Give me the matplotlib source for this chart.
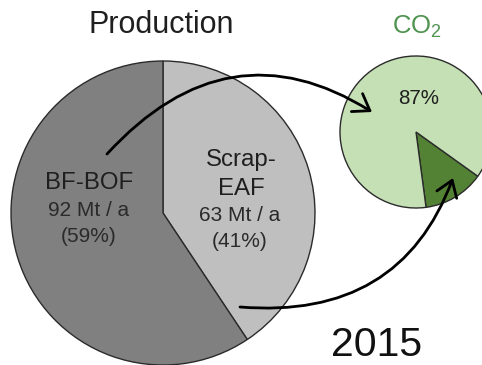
import matplotlib
matplotlib.use("Agg")
import matplotlib.pyplot as plt
from matplotlib.patches import FancyArrowPatch
from matplotlib.path import Path

plt.rcParams["font.family"] = ["Liberation Sans", "DejaVu Sans"]
plt.rcParams["mathtext.fontset"] = "custom"
plt.rcParams["mathtext.rm"] = "Liberation Sans"

# Steel production routes in 2015 (Mt per year)
routes = ["BF-BOF", "Scrap-EAF"]
production = [92, 63]
# Share of CO2 emissions: BF-BOF, Scrap-EAF (%)
co2_share = [87, 13]
year = "2015"

W, H = 482, 365
fig = plt.figure(figsize=(W / 100, H / 100), dpi=100)
ax = fig.add_axes([0, 0, 1, 1])

edge = dict(edgecolor="#2b2b2b", linewidth=1.0)

# Production pie: Scrap-EAF starts at 12 o'clock and runs clockwise
ax.pie([production[1], production[0]], colors=["#bfbfbf", "#808080"],
       startangle=90, counterclock=False, center=(163, H - 213), radius=152,
       wedgeprops=edge)

# CO2 pie: small Scrap-EAF wedge in the lower right
mid_angle = -59
start = mid_angle + co2_share[1] * 3.6 / 2
ax.pie([co2_share[1], co2_share[0]], colors=["#548235", "#c5e0b4"],
       startangle=start, counterclock=False, center=(416, H - 132), radius=76,
       wedgeprops=edge)

ax.set_xlim(0, W)
ax.set_ylim(0, H)
ax.set_aspect("equal")
ax.axis("off")

txt = "#1f1f1f"
total = sum(production)

ax.text(161, H - 33, "Production", ha="center", va="baseline", fontsize=22, color=txt)
ax.text(417, H - 33, r"CO$_\mathrm{2}$", ha="center", va="baseline", fontsize=18.5,
        color="#4f944f")
ax.text(419, H - 104, f"{co2_share[0]}%", ha="center", va="baseline", fontsize=14.8, color=txt)

# BF-BOF labels
ax.text(89, H - 189, routes[0], ha="center", va="baseline", fontsize=17.3, color=txt)
ax.text(89, H - 216, f"{production[0]} Mt / a", ha="center", va="baseline", fontsize=15, color="#2a2a2a")
ax.text(89, H - 242, f"({production[0] / total * 100:.0f}%)", ha="center", va="baseline",
        fontsize=15, color="#2a2a2a")

# Scrap-EAF labels
ax.text(241, H - 166, "Scrap-", ha="center", va="baseline", fontsize=17.3, color=txt)
ax.text(241, H - 195, "EAF", ha="center", va="baseline", fontsize=17.3, color=txt)
ax.text(240, H - 221, f"{production[1]} Mt / a", ha="center", va="baseline", fontsize=15, color="#2a2a2a")
ax.text(240, H - 247, f"({production[1] / total * 100:.0f}%)", ha="center", va="baseline",
        fontsize=15, color="#2a2a2a")

ax.text(377, H - 356, year, ha="center", va="baseline", fontsize=29.5, color="#111111")


def curved_arrow(p0, c, p1):
    verts = [(p0[0], H - p0[1]), (c[0], H - c[1]), (p1[0], H - p1[1])]
    path = Path(verts, [Path.MOVETO, Path.CURVE3, Path.CURVE3])
    arr = FancyArrowPatch(path=path, arrowstyle="->,head_length=0.55,head_width=0.38",
                          mutation_scale=20, color="black", linewidth=2.0,
                          transform=ax.transData, zorder=5)
    ax.add_patch(arr)


# BF-BOF production -> CO2 share
curved_arrow((107, 154), (228, 22), (372, 112))
# Scrap-EAF production -> CO2 share
curved_arrow((240, 307), (400, 320), (453, 178))

fig.savefig("out.png", dpi=100)
